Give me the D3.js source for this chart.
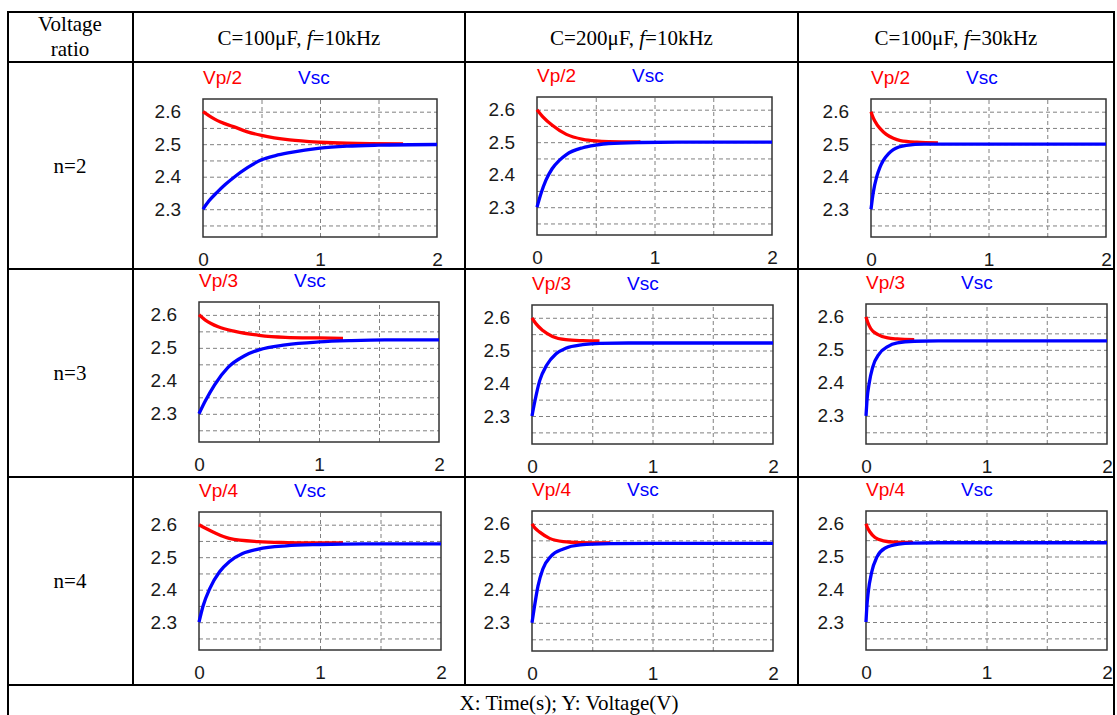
<!DOCTYPE html>
<html>
<head>
<meta charset="utf-8">
<script src="https://cdn.jsdelivr.net/npm/d3@7"></script>
<style>
  body { margin: 0; background: #fff; }
  .cell-text { font-family: "Liberation Serif", "Times New Roman", serif; font-size: 21px; fill: #000; }
  .tick text { font-family: "Liberation Sans", Arial, sans-serif; font-size: 19px; fill: #1a1a1a; }
  .legend { font-family: "Liberation Sans", Arial, sans-serif; font-size: 19px; }
</style>
</head>
<body>
<div id="chart"></div>
<script>
// table text
const rowLabels = ["n=2", "n=3", "n=4"];
const ratioLabels = ["Vp/2", "Vp/3", "Vp/4"];
const capLabels = ["C=100\u03bcF, ", "C=200\u03bcF, ", "C=100\u03bcF, "];
const freqLabels = ["=10kHz", "=10kHz", "=30kHz"];
const xTicks = [0, 1, 2];
const yTicks = [2.3, 2.4, 2.5, 2.6];
const gridX = [0.5, 1, 1.5];
const gridY = [2.25, 2.3, 2.35, 2.4, 2.45, 2.5, 2.55, 2.6];

// [time s, voltage V]
// n=2
const vp_n2_a = [[0,2.6],[0.05,2.588],[0.1,2.577],[0.15,2.568],[0.26,2.554],[0.38,2.538],[0.5,2.527],[0.74,2.513],[1.0,2.506],[1.23,2.503],[1.71,2.501]];
const vsc_n2_a = [[0,2.3],[0.05,2.325],[0.12,2.352],[0.19,2.376],[0.26,2.397],[0.38,2.428],[0.5,2.452],[0.62,2.465],[0.74,2.474],[1.0,2.488],[1.23,2.494],[1.5,2.497],[2.0,2.499]];
const vp_n2_b = [[0,2.6],[0.05,2.578],[0.13,2.552],[0.25,2.524],[0.39,2.509],[0.5,2.504],[0.61,2.502],[0.88,2.501]];
const vsc_n2_b = [[0,2.3],[0.034,2.342],[0.076,2.383],[0.13,2.419],[0.19,2.444],[0.25,2.462],[0.39,2.483],[0.5,2.491],[0.61,2.496],[0.88,2.499],[1.2,2.5],[2.0,2.5]];
const vp_n2_c = [[0,2.6],[0.02,2.58],[0.048,2.562],[0.08,2.547],[0.13,2.53],[0.19,2.518],[0.25,2.511],[0.39,2.506],[0.57,2.504]];
const vsc_n2_c = [[0,2.3],[0.01,2.328],[0.02,2.353],[0.048,2.399],[0.075,2.428],[0.105,2.45],[0.15,2.471],[0.19,2.483],[0.3,2.496],[0.45,2.5],[1.0,2.5],[2.0,2.5]];
// n=3
const vp_n3_a = [[0,2.6],[0.05,2.585],[0.1,2.574],[0.16,2.564],[0.3,2.55],[0.5,2.538],[0.72,2.532],[1.0,2.53],[1.2,2.529]];
const vsc_n3_a = [[0,2.3],[0.05,2.337],[0.13,2.388],[0.24,2.44],[0.38,2.476],[0.5,2.494],[0.72,2.509],[1.0,2.518],[1.27,2.522],[1.55,2.524],[2.0,2.524]];
const vp_n3_b = [[0,2.6],[0.03,2.583],[0.09,2.561],[0.17,2.543],[0.28,2.533],[0.42,2.53],[0.56,2.529]];
const vsc_n3_b = [[0,2.3],[0.022,2.342],[0.064,2.408],[0.12,2.454],[0.2,2.49],[0.28,2.507],[0.42,2.518],[0.56,2.522],[0.8,2.523],[2.0,2.523]];
const vp_n3_c = [[0,2.6],[0.015,2.583],[0.04,2.564],[0.1,2.546],[0.18,2.536],[0.26,2.533],[0.4,2.531]];
const vsc_n3_c = [[0,2.3],[0.008,2.346],[0.028,2.402],[0.055,2.447],[0.11,2.488],[0.18,2.51],[0.26,2.521],[0.4,2.526],[0.6,2.527],[2.0,2.527]];
// n=4
const vp_n4_a = [[0,2.6],[0.05,2.59],[0.12,2.577],[0.25,2.558],[0.49,2.548],[0.72,2.545],[0.94,2.544],[1.19,2.544]];
const vsc_n4_a = [[0,2.3],[0.033,2.349],[0.09,2.404],[0.17,2.455],[0.25,2.486],[0.36,2.511],[0.49,2.525],[0.72,2.535],[1.0,2.539],[1.36,2.541],[2.0,2.541]];
const vp_n4_b = [[0,2.6],[0.025,2.587],[0.064,2.575],[0.146,2.556],[0.26,2.546],[0.4,2.543],[0.65,2.542]];
const vsc_n4_b = [[0,2.3],[0.017,2.341],[0.05,2.412],[0.09,2.463],[0.16,2.503],[0.26,2.524],[0.4,2.536],[0.65,2.54],[1.0,2.541],[2.0,2.541]];
const vp_n4_c = [[0,2.6],[0.012,2.588],[0.033,2.575],[0.075,2.558],[0.144,2.548],[0.24,2.544],[0.39,2.543]];
const vsc_n4_c = [[0,2.3],[0.006,2.341],[0.019,2.392],[0.047,2.452],[0.09,2.498],[0.16,2.526],[0.27,2.538],[0.39,2.541],[0.6,2.542],[2.0,2.542]];

const vpSeries = [[vp_n2_a, vp_n2_b, vp_n2_c], [vp_n3_a, vp_n3_b, vp_n3_c], [vp_n4_a, vp_n4_b, vp_n4_c]];
const vscSeries = [[vsc_n2_a, vsc_n2_b, vsc_n2_c], [vsc_n3_a, vsc_n3_b, vsc_n3_c], [vsc_n4_a, vsc_n4_b, vsc_n4_c]];

const w = 1117;
const h = 715;

// table grid
const colEdges = [8, 133, 465, 798, 1114];
const rowEdges = [12, 62, 269, 477, 685];

// plot boxes per cell: x0, y0, x1, y1
const boxes = [
  [[203, 99, 437, 237], [537, 97, 772, 235], [871, 99, 1106, 237]],
  [[199, 302, 439, 442], [532, 305, 773, 444], [866, 304, 1107, 444]],
  [[199, 512, 441, 650], [532, 511, 773, 651], [866, 511, 1107, 650]]
];

const svg = d3.select('#chart')
  .append('svg')
  .attr('width', w)
  .attr('height', h);

// table lines
const tbl = svg.append('g').attr('stroke', '#000').attr('stroke-width', 2);
rowEdges.forEach(y => {
  tbl.append('line').attr('x1', colEdges[0] - 1).attr('x2', colEdges[4] + 1).attr('y1', y).attr('y2', y);
});
colEdges.forEach((x, i) => {
  const full = (i === 0 || i === colEdges.length - 1);
  tbl.append('line').attr('x1', x).attr('x2', x).attr('y1', rowEdges[0])
    .attr('y2', full ? h : rowEdges[rowEdges.length - 1]);
});

// header
svg.append('text').attr('class', 'cell-text').attr('x', 70).attr('y', 31).attr('text-anchor', 'middle').text('Voltage');
svg.append('text').attr('class', 'cell-text').attr('x', 70).attr('y', 56).attr('text-anchor', 'middle').text('ratio');
capLabels.forEach((c, i) => {
  const t = svg.append('text').attr('class', 'cell-text')
    .attr('x', (colEdges[i + 1] + colEdges[i + 2]) / 2).attr('y', 44.5)
    .attr('text-anchor', 'middle');
  t.append('tspan').text(c);
  t.append('tspan').attr('font-style', 'italic').text('f');
  t.append('tspan').text(freqLabels[i]);
});
rowLabels.forEach((r, i) => {
  svg.append('text').attr('class', 'cell-text')
    .attr('x', 70).attr('y', (rowEdges[i + 1] + rowEdges[i + 2]) / 2 + 7)
    .attr('text-anchor', 'middle').text(r);
});
svg.append('text').attr('class', 'cell-text')
  .attr('x', 569).attr('y', 710).attr('text-anchor', 'middle')
  .text('X: Time(s); Y: Voltage(V)');

// panels
boxes.forEach((row, r) => {
  row.forEach((b, c) => {
    const [x0, y0, x1, y1] = b;
    const x = d3.scaleLinear().domain([0, 2]).range([x0, x1]);
    const y = d3.scaleLinear().domain([2.2145, 2.639]).range([y1, y0]);
    const g = svg.append('g');

    // dashed grid
    const gy = g.append('g').attr('transform', `translate(${x0},0)`)
      .call(d3.axisLeft(y).tickValues(gridY).tickSize(-(x1 - x0)).tickFormat(''));
    const gx = g.append('g').attr('transform', `translate(0,${y1})`)
      .call(d3.axisBottom(x).tickValues(gridX).tickSize(-(y1 - y0)).tickFormat(''));
    [gy, gx].forEach(a => {
      a.select('.domain').remove();
      a.selectAll('line').attr('stroke', '#808080').attr('stroke-width', 1).attr('stroke-dasharray', '4,3');
    });

    g.append('rect').attr('x', x0).attr('y', y0).attr('width', x1 - x0).attr('height', y1 - y0)
      .attr('fill', 'none').attr('stroke', '#333').attr('stroke-width', 1.5);

    // tick labels
    const ay = g.append('g').attr('transform', `translate(${x0},0)`)
      .call(d3.axisLeft(y).tickValues(yTicks).tickSize(0).tickPadding(22).tickFormat(d3.format('.1f')));
    ay.select('.domain').remove();
    const ax = g.append('g').attr('transform', `translate(0,${y1})`)
      .call(d3.axisBottom(x).tickValues(xTicks).tickSize(0).tickPadding(16).tickFormat(d3.format('d')));
    ax.select('.domain').remove();
    g.selectAll('.tick text').attr('font-family', null).attr('font-size', null);

    const line = d3.line()
      .x(d => x(d[0]))
      .y(d => y(d[1]))
      .curve(d3.curveMonotoneX);

    g.append('path').datum(vpSeries[r][c]).attr('d', line)
      .attr('fill', 'none').attr('stroke', '#ff0000').attr('stroke-width', 3.3);
    g.append('path').datum(vscSeries[r][c]).attr('d', line)
      .attr('fill', 'none').attr('stroke', '#0000ff').attr('stroke-width', 3.3);

    // legend
    g.append('text').attr('class', 'legend').attr('x', x0).attr('y', y0 - 15)
      .attr('fill', '#ff0000').text(ratioLabels[r]);
    g.append('text').attr('class', 'legend').attr('x', x0 + 95).attr('y', y0 - 15)
      .attr('fill', '#0000ff').text('Vsc');
  });
});
</script>
</body>
</html>
